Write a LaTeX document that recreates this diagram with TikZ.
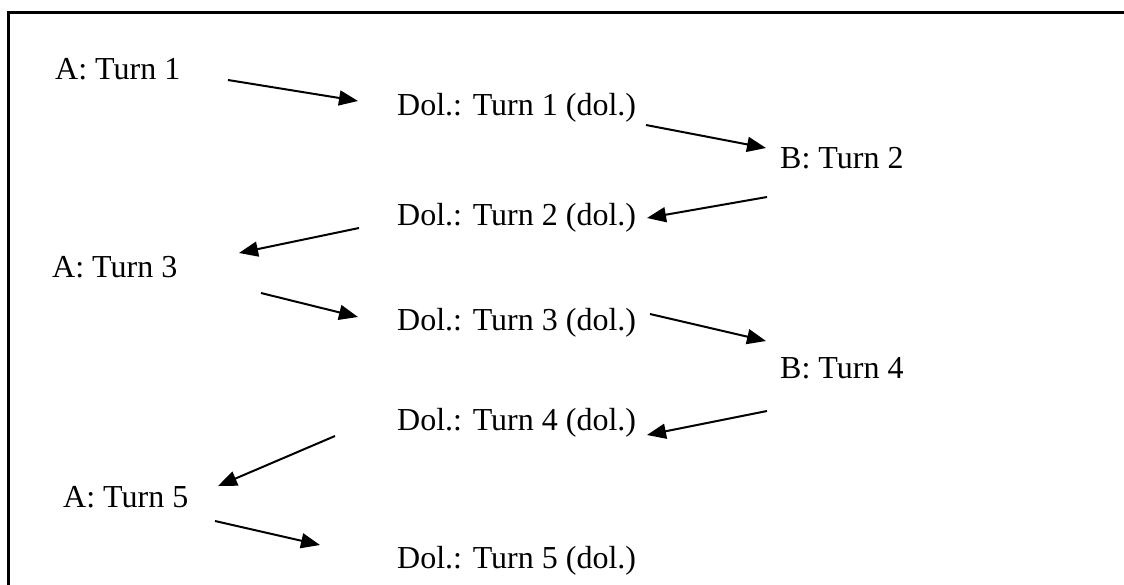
\documentclass[tikz,border=0pt]{standalone}
\usepackage{fontspec}
\setmainfont{Liberation Serif}
\usetikzlibrary{arrows.meta}
\begin{document}
\begin{tikzpicture}[x=1pt,y=-1pt,
  lbl/.style={anchor=base west,inner sep=0pt,font=\fontsize{32}{38}\selectfont},
  conn/.style={line width=2pt,-{Triangle[length=19pt,width=15pt]}},
  frame/.style={line width=3pt}]
\useasboundingbox (0,0) rectangle (1124,584);
\draw[frame] (8.5,590) -- (8.5,12) -- (1130,12);
\node[lbl] (a1) at (55,79) {A: Turn 1};
\node[lbl] (d1) at (397,115) {Dol.: Turn 1 (dol.)};
\node[lbl] (b2) at (780,168) {B: Turn 2};
\node[lbl] (d2) at (397,225) {Dol.: Turn 2 (dol.)};
\node[lbl] (a3) at (52,277) {A: Turn 3};
\node[lbl] (d3) at (397,330) {Dol.: Turn 3 (dol.)};
\node[lbl] (b4) at (780,378) {B: Turn 4};
\node[lbl] (d4) at (397,430) {Dol.: Turn 4 (dol.)};
\node[lbl] (a5) at (63,507) {A: Turn 5};
\node[lbl] (d5) at (397,568) {Dol.: Turn 5 (dol.)};
\coordinate (s1) at (228,80);  \coordinate (e1) at (358,101);
\coordinate (s2) at (646,125); \coordinate (e2) at (766,148);
\coordinate (s3) at (767,197); \coordinate (e3) at (647,218);
\coordinate (s4) at (359,228); \coordinate (e4) at (239,253);
\coordinate (s5) at (261,293); \coordinate (e5) at (358,317);
\coordinate (s6) at (650,314); \coordinate (e6) at (766,341);
\coordinate (s7) at (767,411); \coordinate (e7) at (647,435);
\coordinate (s8) at (335,436); \coordinate (e8) at (218,486);
\coordinate (s9) at (215,521); \coordinate (e9) at (320,545);
\foreach \i in {1,...,9} \draw[conn] (s\i) -- (e\i);
\end{tikzpicture}
\end{document}
